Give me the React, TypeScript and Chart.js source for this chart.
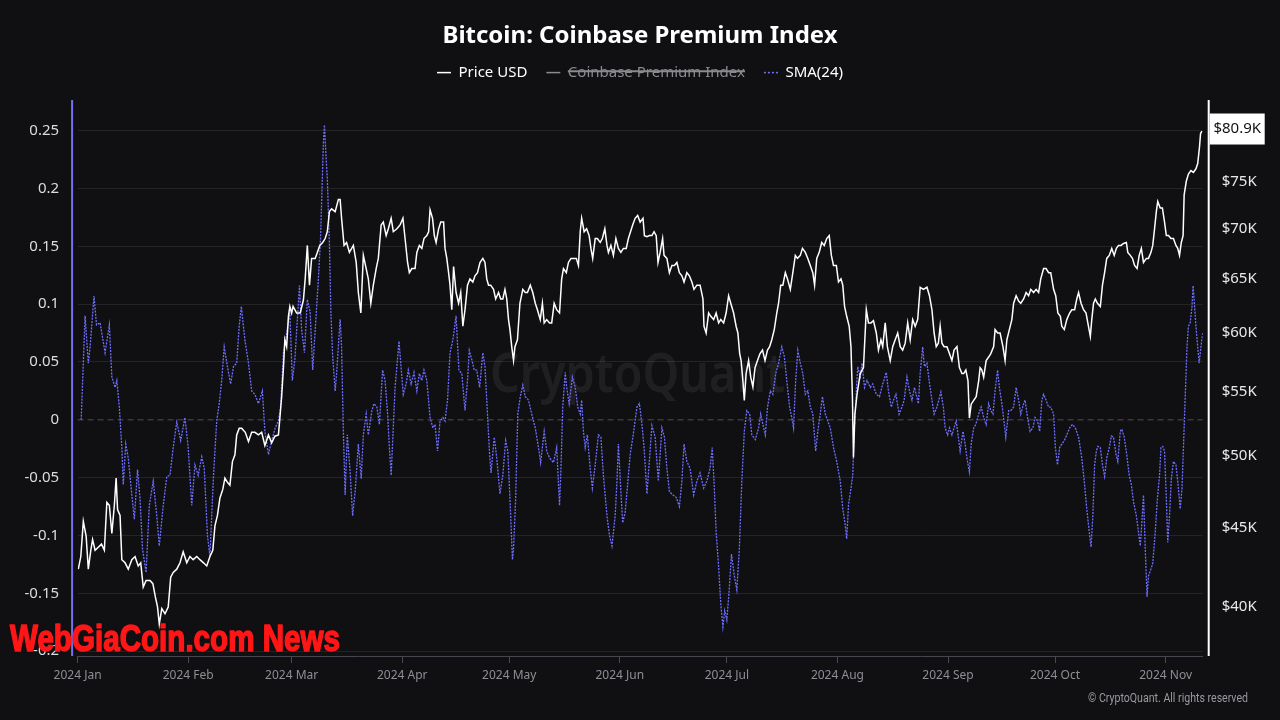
import React, { useEffect, useRef } from "react";
import { Chart, registerables } from "chart.js";

Chart.register(...registerables);

// ---------------- data ----------------
const TITLE = "Bitcoin: Coinbase Premium Index";
const SERIES_NAMES = ["Price USD", "Coinbase Premium Index", "SMA(24)"];
const MONTH_LABELS = [
  "2024 Jan", "2024 Feb", "2024 Mar", "2024 Apr", "2024 May", "2024 Jun",
  "2024 Jul", "2024 Aug", "2024 Sep", "2024 Oct", "2024 Nov",
];
// days since 2024-01-01 at which each month starts
const MONTH_START_DAYS = [0, 31, 60, 91, 121, 152, 182, 213, 244, 274, 305];
const DAY_RANGE = [0, 315.4];
const PREMIUM_TICKS = [-0.2, -0.15, -0.1, -0.05, 0, 0.05, 0.1, 0.15, 0.2, 0.25];
const PREMIUM_RANGE = [-0.2042, 0.2765];
const PRICE_TICKS = [40000, 45000, 50000, 55000, 60000, 65000, 70000, 75000, 80000];
const PRICE_RANGE = [37200, 84700];
const PRICE_LAST_LABEL = "$80.9K";
const WATERMARK = "CryptoQuant";
const COPYRIGHT = "© CryptoQuant. All rights reserved";
const OVERLAY = "WebGiaCoin.com News";

// [day since 2024-01-01, BTC price in USD]
const priceUsd: [number, number][] = [
  [0.2, 42300], [0.9, 43100], [1.6, 45400], [2.4, 44400], [3, 42300], [3.7, 43500], [4.2, 44200], [4.9, 43500],
  [5.8, 43700], [6.7, 43900], [7.5, 43500], [8.2, 46700], [8.9, 46500], [9.6, 44600], [10.3, 46500], [10.8, 48400],
  [11.2, 46200], [11.9, 45800], [12.4, 42900], [13.3, 42700], [14.2, 42300], [15.2, 42900], [16.1, 43100], [17, 42500],
  [17.7, 42700], [18.4, 41200], [19.2, 41600], [20.3, 41600], [21.1, 41400], [21.8, 40600], [22.4, 40000], [22.9, 39000],
  [23.6, 39900], [24.5, 39600], [25.4, 40000], [26.1, 41800], [26.8, 42100], [27.8, 42300], [28.7, 42700], [29.6, 43400],
  [30.6, 42700], [31.5, 43100], [32.4, 42900], [33.4, 43100], [34.3, 42900], [35.3, 42700], [36.2, 42500], [37.1, 43100],
  [37.9, 43500], [38.5, 45100], [39.2, 45800], [39.9, 47000], [40.7, 47600], [41.3, 48400], [42, 48100], [42.7, 47900],
  [43.4, 49600], [44.1, 50100], [44.6, 51600], [45.3, 52100], [46, 52100], [47, 51800], [47.9, 51100], [48.8, 51800],
  [49.7, 51800], [50.7, 51600], [51.6, 51800], [52.5, 50800], [53.5, 51600], [54.4, 51000], [55.3, 51500], [56.3, 51600],
  [56.7, 52900], [57.2, 54600], [57.7, 57000], [58.1, 59400], [58.6, 58800], [59.1, 61500], [59.5, 62400], [60, 61800],
  [60.4, 62400], [61.4, 61800], [62.4, 61800], [63.3, 63000], [63.8, 65000], [64.4, 68300], [65, 64400], [65.6, 67000],
  [66.6, 67000], [67.2, 67600], [67.9, 68300], [68.7, 68600], [69.4, 69000], [70, 69700], [70.6, 71800], [71.2, 72100],
  [72.2, 71800], [73.1, 73100], [73.6, 73100], [74, 71100], [74.7, 68300], [75.4, 68600], [76.2, 67600], [77.3, 68300],
  [78.1, 66600], [78.7, 63700], [79.4, 61800], [80.1, 67300], [80.9, 66000], [81.5, 65000], [82.2, 62700], [82.9, 64400],
  [83.7, 66000], [84.3, 67000], [85.1, 70400], [85.7, 70700], [86.5, 69300], [87.1, 70000], [87.9, 71100], [88.5, 69700],
  [89.5, 70000], [90.4, 70400], [91.2, 71100], [91.8, 69000], [92.5, 66600], [93, 65600], [93.7, 66000], [94.6, 66000],
  [95.1, 67600], [95.8, 68300], [96.5, 68000], [97.1, 69000], [97.9, 69300], [98.4, 69700], [98.8, 72000], [99.5, 71100],
  [100, 69300], [100.5, 68600], [101.2, 70000], [101.8, 70700], [102.6, 70700], [103, 68000], [103.5, 67000], [104, 65600],
  [104.4, 64400], [104.9, 62100], [105.4, 66200], [106.1, 63700], [106.8, 62700], [107.4, 63700], [108, 60600], [108.6, 62100],
  [109.3, 64400], [110, 65000], [110.8, 64700], [111.4, 65300], [112.1, 65600], [112.8, 66600], [113.6, 67000], [114.2, 66600],
  [114.7, 65000], [115.2, 64400], [115.8, 64400], [116.6, 64000], [117.2, 63100], [118, 63700], [118.6, 63100], [119.2, 63100],
  [119.8, 64000], [120.3, 63100], [120.8, 61200], [121.2, 60300], [121.7, 58800], [122.2, 57600], [122.6, 58800], [123.3, 59400],
  [124, 62700], [124.8, 64000], [125.5, 63700], [126.1, 63700], [126.9, 64400], [127.6, 63700], [128.3, 62700], [128.9, 62100],
  [129.7, 61200], [130.3, 62700], [130.8, 60900], [131.5, 61200], [132.3, 60900], [132.9, 60900], [133.6, 62700], [134.3, 62100],
  [135.1, 61800], [135.7, 65000], [136.2, 66000], [137, 65600], [137.6, 66600], [138.3, 67000], [139, 67000], [139.8, 67000],
  [140.4, 66300], [140.9, 69700], [141.3, 71100], [142, 69700], [142.7, 70000], [143.4, 69300], [143.9, 68000], [144.4, 67000],
  [145.1, 69000], [145.7, 69000], [146.5, 68600], [147.1, 69000], [147.8, 70000], [148.4, 68300], [148.8, 67600], [149.5, 68300],
  [150.2, 67300], [150.9, 69000], [151.6, 68000], [152.3, 67600], [153, 68000], [153.8, 68000], [154.4, 69000], [155.6, 70400],
  [156.3, 71100], [157, 71400], [157.7, 70700], [158.5, 71100], [158.9, 69300], [159.6, 69200], [160.3, 69300], [161, 69300],
  [161.6, 69700], [162.2, 69300], [162.7, 66600], [163.3, 67600], [164, 69000], [164.4, 67300], [165.2, 67000], [165.9, 65600],
  [166.6, 66300], [167.3, 66300], [168, 66600], [168.7, 65600], [169.4, 65300], [170, 64700], [170.8, 65600], [171.5, 65300],
  [172.2, 64700], [172.8, 64000], [173.6, 64400], [174.5, 64400], [175.3, 63100], [175.6, 60600], [176.2, 60000], [176.9, 61800],
  [177.5, 61500], [178.3, 61200], [179, 61800], [179.7, 60900], [180.3, 61200], [181.1, 60900], [181.8, 61800], [182.5, 63400],
  [183.1, 62700], [183.9, 61800], [184.6, 60600], [185.1, 60000], [185.6, 58200], [186, 57600], [186.5, 55900], [186.9, 54300],
  [187.4, 56500], [188.1, 57600], [188.7, 56200], [189.3, 55400], [189.9, 57000], [190.6, 57600], [191.3, 58200], [192, 58500],
  [192.7, 57600], [193.4, 58500], [194, 58800], [194.6, 59400], [195.3, 60300], [196, 61800], [196.5, 62700], [197.1, 64400],
  [197.7, 64400], [198.4, 65600], [199, 65000], [199.8, 64000], [200.5, 65600], [201.2, 67300], [201.8, 67000], [202.6, 67300],
  [203.2, 68000], [204, 67600], [204.7, 67000], [205.4, 66300], [206.1, 65600], [206.6, 64400], [207.2, 67000], [207.9, 67600],
  [208.6, 68600], [209.3, 68300], [210, 69000], [210.7, 69300], [211.3, 67300], [211.9, 66300], [212.7, 66300], [213.3, 64700],
  [214, 65000], [214.5, 64400], [215, 62400], [215.6, 61500], [216.3, 60600], [216.8, 58800], [217.2, 54600], [217.5, 49900],
  [217.9, 53200], [218.5, 54800], [219.4, 56500], [220.3, 57000], [221.1, 62100], [221.7, 60900], [222.4, 60900], [223.1, 61100],
  [223.9, 60000], [224.5, 58500], [225.2, 59400], [225.7, 58800], [226.4, 60900], [227, 58800], [227.8, 57600], [228.5, 58800],
  [229.2, 59400], [229.9, 60000], [230.6, 58800], [231.3, 58500], [232, 59100], [232.7, 60900], [233.4, 59400], [234.1, 61200],
  [234.8, 60600], [235.5, 61200], [236.2, 64200], [237.1, 64000], [238.1, 64200], [238.8, 63400], [239.5, 62100], [240.1, 60000],
  [240.7, 58800], [241.3, 59100], [241.8, 60600], [242.3, 59100], [242.9, 58800], [243.7, 58800], [244.4, 58200], [245.1, 57600],
  [245.7, 58500], [246.5, 58800], [247.2, 57000], [247.9, 56500], [248.4, 56500], [249, 56800], [249.6, 55900], [250, 52900],
  [250.5, 54000], [251.2, 54300], [251.9, 54600], [252.6, 55900], [253, 57000], [253.5, 56800], [254, 56200], [254.7, 57600],
  [255.4, 57900], [256, 58200], [256.8, 58800], [257.2, 60300], [257.9, 60000], [258.6, 60000], [259.4, 58800], [260, 57600],
  [260.5, 59400], [261.2, 60300], [261.9, 61200], [262.4, 62700], [263.1, 63400], [263.8, 62900], [264.4, 62700], [265.2, 63100],
  [265.9, 63700], [266.6, 63400], [267.2, 64000], [268, 63700], [268.7, 64000], [269.4, 63700], [270, 65000], [270.8, 66000],
  [271.5, 66000], [272.2, 65600], [272.8, 65600], [273.6, 64000], [274.2, 63400], [274.8, 61800], [275.5, 61500], [275.9, 60600],
  [276.6, 60300], [277.3, 61200], [278.1, 61800], [278.7, 62100], [279.5, 62100], [280.1, 63100], [280.6, 63700], [281.3, 62700],
  [282, 62100], [282.7, 61800], [283.2, 60900], [283.9, 59700], [284.3, 61200], [284.8, 62700], [285.3, 63100], [285.9, 62700],
  [286.7, 62400], [287.3, 64400], [287.9, 65600], [288.5, 67000], [289.2, 67300], [289.9, 68000], [290.6, 67300], [291.2, 68000],
  [291.8, 68300], [292.5, 68300], [293.2, 68500], [294, 68600], [294.4, 67600], [295.1, 67300], [295.7, 67000], [296.3, 66300],
  [297, 66000], [297.6, 67300], [298.2, 68000], [298.8, 66600], [299.6, 67000], [300.2, 67000], [300.9, 67600], [301.4, 68300],
  [301.9, 70000], [302.4, 71800], [302.8, 72900], [303.5, 72200], [304.1, 72200], [304.7, 70700], [305.2, 69300], [305.8, 69300],
  [306.5, 69000], [307.2, 69000], [307.9, 68300], [308.4, 68000], [308.9, 67300], [309.4, 68600], [309.9, 69300], [310.2, 73600],
  [310.8, 75100], [311.4, 75900], [312.1, 76300], [312.8, 76100], [313.5, 76500], [314, 77100], [314.5, 79000], [314.8, 80600],
  [315.2, 80900],
];

// [day since 2024-01-01, Coinbase premium index SMA(24)]
const premiumSma24: [number, number][] = [
  [1.0, 0.0], [2.1, 0.09], [3.0, 0.049], [3.5, 0.063], [4.6, 0.107], [5.3, 0.082], [6.3, 0.084], [7.7, 0.058],
  [8.9, 0.082], [9.6, 0.037], [10.5, 0.028], [11, 0.034], [11.7, 0.011], [12.4, -0.024], [12.8, -0.056], [13.5, -0.021],
  [14.2, -0.033], [15.2, -0.065], [15.9, -0.086], [16.8, -0.043], [17.5, -0.068], [18.2, -0.112], [19.2, -0.132], [20.1, -0.074],
  [21.2, -0.053], [22.2, -0.083], [22.9, -0.109], [23.9, -0.077], [25, -0.049], [25.9, -0.048], [26.8, -0.024], [27.8, -0.002],
  [28.9, -0.018], [30.1, 0.002], [31, -0.024], [32, -0.074], [32.9, -0.039], [33.8, -0.048], [34.8, -0.032], [35.5, -0.042],
  [36.4, -0.1], [37.1, -0.118], [38.1, -0.048], [39, -0.001], [39.7, 0.014], [40.4, 0.034], [41.1, 0.063], [42, 0.046],
  [42.9, 0.031], [43.7, 0.046], [44.6, 0.049], [45.3, 0.081], [45.9, 0.098], [46.9, 0.069], [47.9, 0.049], [48.8, 0.025],
  [49.7, 0.022], [50.7, 0.014], [51.8, 0.025], [52.5, -0.01], [53.5, -0.03], [54.4, -0.018], [55.4, -0.007], [56.3, -0.001],
  [56.9, 0.011], [57.7, 0.058], [58.6, 0.075], [59.5, 0.093], [60.2, 0.034], [60.9, 0.052], [62.2, 0.116], [62.8, 0.078],
  [63.6, 0.058], [64.4, 0.104], [65.2, 0.093], [65.9, 0.043], [66.8, 0.087], [67.5, 0.122], [68.1, 0.157], [68.9, 0.239],
  [69.2, 0.255], [69.6, 0.23], [70, 0.209], [70.6, 0.151], [71, 0.093], [71.5, 0.055], [72.2, 0.025], [72.6, 0.04],
  [73.6, 0.087], [74, 0.063], [74.5, -0.01], [75, -0.065], [75.6, -0.013], [76.4, -0.045], [77.1, -0.083], [77.8, -0.062],
  [78.7, -0.021], [79.5, -0.051], [80.1, -0.013], [80.9, 0.005], [81.5, -0.013], [82.5, 0.008], [83.1, 0.014], [83.9, 0.011],
  [84.6, -0.004], [85.5, 0.043], [86.2, 0.034], [86.9, 0.005], [87.4, -0.024], [87.9, -0.048], [88.4, -0.013], [89, 0.028],
  [90.1, 0.068], [90.9, 0.037], [91.3, 0.022], [92.1, 0.031], [92.7, 0.043], [93.5, 0.031], [94.3, 0.041], [95.1, 0.025],
  [95.8, 0.04], [96.5, 0.034], [97.1, 0.043], [97.9, 0.034], [98.8, 0.002], [99.6, -0.007], [100.2, -0.004], [100.9, -0.027],
  [101.6, -0.001], [102.4, 0.002], [103, -0.001], [103.7, 0.017], [104.4, 0.058], [105.2, 0.069], [105.6, 0.078], [106.1, 0.09],
  [106.5, 0.066], [106.9, 0.043], [107.7, 0.04], [108.6, 0.008], [109.3, 0.034], [109.8, 0.06], [110.5, 0.052], [111.2, 0.043],
  [111.9, 0.043], [112.7, 0.028], [113.6, 0.058], [114.2, 0.046], [114.9, 0.005], [115.5, -0.03], [115.9, -0.046], [116.8, -0.015],
  [117.5, -0.033], [118.4, -0.064], [119.2, -0.048], [120, -0.018], [120.6, -0.027], [121.2, -0.068], [121.9, -0.121], [122.2, -0.112],
  [122.8, -0.068], [123.4, 0.005], [124.1, 0.02], [124.8, 0.03], [125.5, 0.02], [126.4, 0.017], [127.3, 0.005], [128.3, -0.007],
  [129.2, -0.024], [129.8, -0.037], [130.8, -0.01], [131.5, -0.027], [132.3, -0.033], [133.4, -0.037], [134.3, -0.024], [135.1, -0.074],
  [135.5, -0.042], [136, 0.011], [136.7, 0.041], [137.1, 0.028], [137.8, 0.014], [138.7, 0.037], [139.5, 0.028], [140.2, 0.011],
  [140.9, 0.005], [141.3, 0.017], [141.8, -0.01], [142.3, -0.024], [142.9, -0.013], [143.7, -0.042], [144.3, -0.059], [145.1, -0.039],
  [146, -0.013], [146.7, -0.015], [147.4, -0.048], [148.4, -0.083], [149.1, -0.1], [149.8, -0.109], [150.7, -0.083], [151.2, -0.053],
  [151.6, -0.021], [152.3, -0.062], [152.8, -0.089], [153.5, -0.08], [154.1, -0.059], [154.9, -0.03], [155.8, -0.012], [156.8, 0.011],
  [157.5, 0.014], [158.2, -0.004], [158.8, -0.024], [159.6, -0.064], [160.2, -0.039], [161, -0.005], [161.9, -0.015], [162.8, -0.053],
  [163.8, -0.007], [164.5, -0.015], [165.2, -0.042], [165.9, -0.062], [166.9, -0.065], [167.8, -0.067], [168.7, -0.075], [169.4, -0.053],
  [170, -0.021], [170.8, -0.036], [171.7, -0.042], [172.7, -0.065], [173.6, -0.053], [174.5, -0.046], [175.5, -0.059], [176.4, -0.053],
  [177.3, -0.042], [177.9, -0.024], [178.4, -0.053], [179, -0.097], [179.7, -0.127], [180.3, -0.159], [180.9, -0.179], [181.4, -0.165],
  [182, -0.173], [182.6, -0.15], [183.3, -0.116], [184.1, -0.135], [184.8, -0.147], [185.5, -0.112], [186.2, -0.053], [186.9, -0.01],
  [187.6, 0.008], [188.4, 0.005], [189, -0.013], [190, -0.017], [190.9, -0.007], [191.5, 0.005], [192.1, -0.004], [192.8, -0.013],
  [193.4, 0.011], [194.2, 0.025], [194.9, 0.022], [195.7, 0.04], [196.5, 0.049], [197.4, 0.063], [198.1, 0.055], [198.8, 0.034],
  [199.6, 0.011], [200.2, 0.002], [200.7, -0.007], [201.3, 0.034], [201.9, 0.06], [202.6, 0.049], [203.3, 0.04], [204, 0.022],
  [204.7, 0.025], [205.4, 0.011], [206.1, 0.005], [206.9, -0.027], [207.5, -0.01], [208.2, 0.005], [208.8, 0.02], [209.6, 0.005],
  [210.3, -0.001], [211, -0.007], [211.9, -0.024], [212.8, -0.036], [213.8, -0.053], [214.5, -0.077], [215.2, -0.091], [215.6, -0.103],
  [216.1, -0.074], [216.8, -0.059], [217.3, -0.048], [217.7, -0.01], [218.3, 0.025], [218.7, 0.046], [219.4, 0.037], [219.9, 0.049],
  [220.6, 0.028], [221.3, 0.034], [222.2, 0.028], [222.9, 0.031], [223.9, 0.022], [224.8, 0.02], [225.7, 0.031], [226.7, 0.041],
  [227.3, 0.025], [228.1, 0.011], [228.7, 0.017], [229.4, 0.022], [230.3, 0.005], [231.1, 0.011], [231.7, 0.017], [232.5, 0.037],
  [233.2, 0.025], [233.9, 0.017], [234.6, 0.028], [235.7, 0.014], [236.2, 0.04], [236.9, 0.063], [237.4, 0.046], [238.1, 0.049],
  [238.7, 0.034], [239.5, 0.017], [240.1, 0.005], [240.9, 0.011], [242, 0.024], [242.7, 0.011], [243.2, -0.007], [243.9, -0.013],
  [244.4, -0.007], [245.1, -0.013], [245.7, -0.007], [246.3, -0.001], [246.9, -0.015], [247.4, -0.027], [248.2, -0.01], [248.8, -0.021],
  [249.3, -0.033], [250, -0.045], [250.5, -0.021], [251.2, -0.007], [251.8, -0.004], [252.6, 0.005], [253.3, 0.011], [254, 0.002],
  [254.7, -0.004], [255.4, 0.014], [256, 0.008], [256.6, 0.005], [257.2, 0.025], [257.9, 0.043], [258.4, 0.028], [259.1, 0.014],
  [259.8, -0.004], [260.2, -0.015], [261, 0.008], [261.6, 0.008], [262.4, 0.011], [263.1, 0.028], [263.8, 0.017], [264.4, 0.005],
  [265.2, 0.014], [265.6, 0.017], [266.3, 0.002], [267, -0.01], [267.8, -0.007], [268.4, 0.002], [269.1, -0.001], [269.7, -0.01],
  [270.3, 0.017], [270.8, 0.022], [271.5, 0.017], [272.2, 0.011], [272.8, 0.011], [273.6, 0.005], [274.1, -0.024], [274.7, -0.039],
  [275.3, -0.024], [275.9, -0.021], [276.6, -0.018], [277.3, -0.013], [278.1, -0.007], [278.9, -0.004], [279.7, -0.007], [280.6, -0.015],
  [281.5, -0.033], [282.2, -0.053], [282.9, -0.077], [283.6, -0.097], [284.1, -0.11], [284.6, -0.083], [285.1, -0.039], [285.6, -0.027],
  [286, -0.023], [286.7, -0.024], [287.3, -0.039], [287.9, -0.049], [288.5, -0.033], [289.2, -0.024], [289.8, -0.014], [290.4, -0.015],
  [291.1, -0.03], [291.6, -0.036], [292.3, -0.01], [292.7, -0.008], [293.4, -0.015], [294.1, -0.03], [294.8, -0.048], [295.4, -0.056],
  [296, -0.071], [296.8, -0.083], [297.4, -0.097], [297.9, -0.109], [298.4, -0.086], [298.8, -0.065], [299.3, -0.112], [299.8, -0.153],
  [300.2, -0.135], [300.9, -0.129], [301.4, -0.124], [302.1, -0.097], [302.7, -0.068], [303.3, -0.048], [303.7, -0.024], [304.2, -0.023],
  [304.7, -0.027], [305.2, -0.068], [305.6, -0.106], [306.1, -0.083], [306.6, -0.051], [307.2, -0.036], [307.9, -0.039], [308.4, -0.053],
  [309.1, -0.077], [309.6, -0.059], [310, -0.024], [310.5, 0.02], [311, 0.063], [311.4, 0.081], [311.9, 0.084], [312.4, 0.098],
  [312.7, 0.116], [313, 0.104], [313.5, 0.081], [314, 0.063], [314.4, 0.049], [314.9, 0.063], [315.4, 0.075],
];

// ---------------- styles ----------------
const FONT = '"Noto Sans", "Open Sans", "DejaVu Sans", sans-serif';
const BG = "#101013";
const GRID = "#232328";
const PRICE_COLOR = "#ffffff";
const SMA_COLOR = "#6f6fff";
const HIDDEN_COLOR = "#8a8a8f";
const LEFT_AXIS_COLOR = "#7272f2";

const fmtPremium = (v: number) => Number(v).toFixed(2).replace(/\.?0+$/, "") || "0";

const decorations = {
  id: "decorations",
  beforeDatasetsDraw(chart: any) {
    const { ctx, chartArea: a, scales } = chart;
    // faint watermark
    ctx.save();
    ctx.font = `600 54px ${FONT}`;
    const w = ctx.measureText(WATERMARK).width;
    ctx.translate(490, 392);
    ctx.scale(295 / w, 1);
    ctx.fillStyle = "rgba(255,255,255,0.065)";
    ctx.textBaseline = "alphabetic";
    ctx.fillText(WATERMARK, 0, 0);
    ctx.restore();
    // dashed zero line
    const y0 = scales.y.getPixelForValue(0);
    ctx.save();
    ctx.strokeStyle = "#4c4c55";
    ctx.lineWidth = 1;
    ctx.setLineDash([6, 4]);
    ctx.beginPath();
    ctx.moveTo(a.left, y0);
    ctx.lineTo(a.right, y0);
    ctx.stroke();
    ctx.restore();
  },
  afterDraw(chart: any) {
    const { ctx, chartArea: a, scales } = chart;
    ctx.save();
    // left axis line (blue) and right axis line (white)
    ctx.lineWidth = 2;
    ctx.strokeStyle = LEFT_AXIS_COLOR;
    ctx.beginPath();
    ctx.moveTo(a.left - 5.5, a.top);
    ctx.lineTo(a.left - 5.5, a.bottom);
    ctx.stroke();
    ctx.strokeStyle = "#ffffff";
    ctx.beginPath();
    ctx.moveTo(a.right + 6, a.top);
    ctx.lineTo(a.right + 6, a.bottom);
    ctx.stroke();

    // last price marker
    const last = priceUsd[priceUsd.length - 1][1];
    const py = scales.yPrice.getPixelForValue(last);
    ctx.fillStyle = "#ffffff";
    ctx.fillRect(a.right + 7, py - 17.5, 55, 31);
    ctx.fillStyle = "#111111";
    ctx.font = `15px ${FONT}`;
    ctx.textAlign = "center";
    ctx.textBaseline = "middle";
    ctx.fillText(PRICE_LAST_LABEL, a.right + 34.5, py - 2);

    // copyright
    ctx.font = `12px "Liberation Sans Narrow", "Roboto", sans-serif`;
    const cw = ctx.measureText(COPYRIGHT).width;
    ctx.save();
    ctx.translate(1088, 698.5);
    ctx.scale(160 / cw, 1);
    ctx.textAlign = "left";
    ctx.fillStyle = "#9a9aa0";
    ctx.fillText(COPYRIGHT, 0, 0);
    ctx.restore();

    // red overlay text
    ctx.font = `bold 37px "Liberation Sans Narrow", "Liberation Sans", sans-serif`;
    const ow = ctx.measureText(OVERLAY).width;
    ctx.save();
    ctx.translate(10, 651);
    ctx.scale(330 / ow, 1);
    ctx.textAlign = "left";
    ctx.textBaseline = "alphabetic";
    ctx.shadowColor = "rgba(0,0,0,0.6)";
    ctx.shadowBlur = 2;
    ctx.fillStyle = "#ff1616";
    ctx.strokeStyle = "#ff1616";
    ctx.lineWidth = 1.6;
    ctx.lineJoin = "round";
    ctx.fillText(OVERLAY, 0, 0);
    ctx.shadowBlur = 0;
    ctx.strokeText(OVERLAY, 0, 0);
    ctx.restore();
    ctx.restore();
  },
};

export default function App() {
  const canvasRef = useRef<HTMLCanvasElement | null>(null);

  useEffect(() => {
    const canvas = canvasRef.current;
    if (!canvas) return;
    const chart = new Chart(canvas, {
      type: "line",
      data: {
        datasets: [
          {
            label: SERIES_NAMES[0],
            data: priceUsd.map(([x, y]) => ({ x, y })),
            yAxisID: "yPrice",
            borderColor: PRICE_COLOR,
            borderWidth: 1.5,
            pointRadius: 0,
            tension: 0,
          },
          {
            label: SERIES_NAMES[1],
            data: [],
            hidden: true,
            yAxisID: "y",
            borderColor: HIDDEN_COLOR,
            borderWidth: 1.5,
            pointRadius: 0,
          },
          {
            label: SERIES_NAMES[2],
            data: premiumSma24.map(([x, y]) => ({ x, y })),
            yAxisID: "y",
            borderColor: SMA_COLOR,
            borderWidth: 1.3,
            borderDash: [2, 1.2],
            pointRadius: 0,
            tension: 0,
          },
        ],
      } as any,
      options: {
        responsive: false,
        maintainAspectRatio: false,
        animation: false,
        devicePixelRatio: 1,
        layout: { padding: 0 },
        plugins: {
          title: {
            display: true,
            text: TITLE,
            color: "#ffffff",
            font: { family: FONT, size: 24, weight: "bold", lineHeight: 0.8 },
            padding: { top: 26.9, bottom: 0 },
          },
          subtitle: {
            display: true,
            text: "",
            weight: 500,
            font: { size: 1, lineHeight: 1 },
            padding: { top: 8.9, bottom: 0 },
          } as any,
          legend: {
            display: true,
            onClick: () => {},
            labels: {
              color: "#ffffff",
              font: { family: FONT, size: 15 },
              usePointStyle: true,
              pointStyleWidth: 14,
              padding: 19,
              generateLabels: (c: any) => {
                const items = (Chart.defaults.plugins.legend.labels as any).generateLabels(c);
                return items.map((it: any) => {
                  const i = it.datasetIndex;
                  return {
                    ...it,
                    pointStyle: "line",
                    lineWidth: 1.5,
                    lineDash: i === 2 ? [2, 2] : [],
                    strokeStyle: i === 0 ? PRICE_COLOR : i === 1 ? HIDDEN_COLOR : SMA_COLOR,
                    fontColor: it.hidden ? HIDDEN_COLOR : "#ffffff",
                  };
                });
              },
            },
          },
          tooltip: { enabled: false },
        },
        scales: {
          x: {
            type: "linear",
            min: DAY_RANGE[0],
            max: DAY_RANGE[1],
            afterBuildTicks: (s: any) => {
              s.ticks = MONTH_START_DAYS.map((v) => ({ value: v }));
            },
            afterFit: (s: any) => {
              s.height = 64;
            },
            ticks: {
              autoSkip: false,
              maxRotation: 0,
              color: "#8e8e95",
              font: { family: FONT, size: 12 },
              padding: 5,
              callback: (_v: any, i: number) => MONTH_LABELS[i] ?? "",
            },
            grid: { drawOnChartArea: false, drawTicks: true, tickLength: 7, color: "#4a4a52" },
            border: { display: true, color: "#46464e", width: 1 },
          },
          y: {
            type: "linear",
            position: "left",
            min: PREMIUM_RANGE[0],
            max: PREMIUM_RANGE[1],
            afterBuildTicks: (s: any) => {
              s.ticks = PREMIUM_TICKS.map((v) => ({ value: v }));
            },
            afterFit: (s: any) => {
              s.width = 77.6;
            },
            ticks: {
              color: "#dcdcdc",
              font: { family: FONT, size: 15 },
              padding: 18.5,
              callback: (v: any) => fmtPremium(Number(v)),
            },
            grid: {
              drawTicks: false,
              color: (ctx: any) => (ctx.tick && Math.abs(ctx.tick.value) < 1e-9 ? "rgba(0,0,0,0)" : GRID),
            },
            border: { display: false },
          },
          yPrice: {
            type: "logarithmic",
            position: "right",
            min: PRICE_RANGE[0],
            max: PRICE_RANGE[1],
            afterBuildTicks: (s: any) => {
              s.ticks = PRICE_TICKS.map((v) => ({ value: v }));
            },
            afterFit: (s: any) => {
              s.width = 77.3;
            },
            ticks: {
              color: "#e8e8e8",
              font: { family: FONT, size: 15 },
              padding: 19,
              callback: (v: any) => "$" + Math.round(Number(v) / 1000) + "K",
            },
            grid: { display: false, drawTicks: false },
            border: { display: false },
          },
        },
      } as any,
      plugins: [decorations],
    });
    return () => chart.destroy();
  }, []);

  return (
    <div
      style={{
        position: "absolute",
        left: 0,
        top: 0,
        width: 1280,
        height: 720,
        background: BG,
        overflow: "hidden",
      }}
    >
      <canvas ref={canvasRef} width={1280} height={720} style={{ display: "block", width: 1280, height: 720 }} />
    </div>
  );
}
